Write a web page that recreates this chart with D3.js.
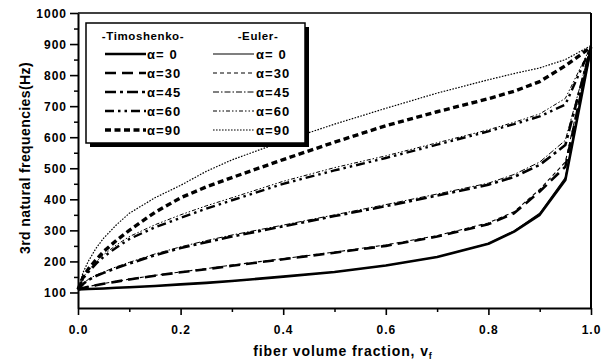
<!DOCTYPE html>
<html>
<head>
<meta charset="utf-8">
<script src="https://cdn.jsdelivr.net/npm/d3@7/dist/d3.min.js"></script>
<style>
  html, body { margin: 0; padding: 0; background: #fff; }
  svg { display: block; }
  .tick text { font-family: "Liberation Sans", Arial, sans-serif; font-weight: bold; font-size: 12px; letter-spacing: 1px; fill: #000; }
</style>
</head>
<body>
<svg id="chart" width="613" height="363"></svg>
<script>
// Fiber volume fraction sample points
const fraction = [0, 0.01, 0.02, 0.035, 0.05, 0.075, 0.1, 0.15, 0.2, 0.25, 0.3, 0.4, 0.5, 0.6, 0.7, 0.8, 0.85, 0.9, 0.95, 1.0];

// Third natural frequency (Hz), Timoshenko beam theory
const timo0  = [110, 110.5, 111, 112, 113, 115, 117, 121, 126, 131, 137, 151, 166, 187, 214, 257, 296, 350, 462, 890];
const timo30 = [110, 114, 118, 123, 128, 135, 142, 154, 165, 175, 186, 207, 228, 250, 280, 320, 355, 425, 505, 890];
const timo45 = [110, 127, 140, 153, 163, 179, 193, 220, 243, 262, 280, 313, 346, 378, 412, 447, 472, 511, 575, 890];
const timo60 = [110, 145, 165, 192, 215, 245, 272, 310, 340, 370, 397, 450, 493, 533, 576, 619, 642, 667, 705, 890];
const timo90 = [110, 150, 175, 205, 232, 268, 300, 358, 405, 440, 470, 528, 584, 637, 682, 724, 748, 779, 830, 890];

// Third natural frequency (Hz), Euler beam theory
const euler0  = [110, 110.5, 111, 112, 113, 115, 117, 121, 126, 131, 137, 151, 166, 187, 214, 258, 298, 355, 470, 892];
const euler30 = [110, 115, 119, 124, 129, 136, 143, 155, 166, 177, 188, 209, 230, 253, 283, 324, 360, 432, 520, 892];
const euler45 = [110, 129, 142, 156, 166, 183, 197, 224, 247, 267, 285, 317, 350, 383, 417, 452, 480, 520, 590, 893];
const euler60 = [110, 150, 170, 198, 222, 253, 280, 318, 350, 379, 405, 458, 502, 540, 582, 624, 648, 675, 725, 893];
const euler90 = [110, 165, 200, 242, 275, 318, 355, 405, 445, 490, 527, 587, 642, 693, 742, 785, 805, 823, 850, 895];

const angleLabels = ["α= 0", "α=30", "α=45", "α=60", "α=90"];
const xTickValues = [0, 0.2, 0.4, 0.6, 0.8, 1.0];
const yTickValues = [100, 200, 300, 400, 500, 600, 700, 800, 900, 1000];

// Line styles: heavy strokes for Timoshenko, light strokes for Euler
const timoStyles = [
  { width: 2.6, dash: null },
  { width: 2.6, dash: "11,6" },
  { width: 2.6, dash: "11,4,3,4" },
  { width: 2.4, dash: "9,4,2.5,4,2.5,4" },
  { width: 3.4, dash: "6,3.5" }
];
const eulerStyles = [
  { width: 1.1, dash: null },
  { width: 1.1, dash: "4,3" },
  { width: 1.0, dash: "6,2,1.5,2" },
  { width: 1.0, dash: "4,2,1.5,2,1.5,2" },
  { width: 1.2, dash: "1.6,1.4" }
];

const timoSeries = [timo0, timo30, timo45, timo60, timo90];
const eulerSeries = [euler0, euler30, euler45, euler60, euler90];

const svg = d3.select("#chart");
const plotLeft = 78, plotRight = 591, plotTop = 13, plotBottom = 308;

const x = d3.scaleLinear().domain([0, 1]).range([plotLeft, plotRight]);
const y = d3.scaleLinear().domain([50, 1000]).range([plotBottom, plotTop]);

const line = d3.line()
  .x((d, i) => x(fraction[i]))
  .y(d => y(d))
  .curve(d3.curveLinear);

const plot = svg.append("g").attr("class", "curves");

function drawSeries(series, styles) {
  series.forEach((vals, k) => {
    plot.append("path")
      .datum(vals)
      .attr("d", line)
      .attr("fill", "none")
      .attr("stroke", "#000")
      .attr("stroke-width", styles[k].width)
      .attr("stroke-dasharray", styles[k].dash)
      .attr("stroke-linejoin", "round");
  });
}
drawSeries(eulerSeries, eulerStyles);
drawSeries(timoSeries, timoStyles);

// Frame: top and right edges
svg.append("line").attr("x1", plotLeft).attr("x2", plotRight).attr("y1", plotTop).attr("y2", plotTop)
  .attr("stroke", "#000").attr("stroke-width", 1.5);
svg.append("line").attr("x1", plotRight).attr("x2", plotRight).attr("y1", plotTop).attr("y2", plotBottom)
  .attr("stroke", "#000").attr("stroke-width", 2);

// Minor ticks
svg.append("g").attr("transform", `translate(0,${plotBottom})`)
  .call(d3.axisBottom(x).tickValues([0.1, 0.3, 0.5, 0.7, 0.9]).tickSize(4).tickFormat(""))
  .call(g => g.select(".domain").remove())
  .call(g => g.selectAll("line").attr("stroke-width", 1.5));
svg.append("g").attr("transform", `translate(${plotLeft},0)`)
  .call(d3.axisLeft(y).tickValues(d3.range(150, 1000, 100)).tickSize(4).tickFormat(""))
  .call(g => g.select(".domain").remove())
  .call(g => g.selectAll("line").attr("stroke-width", 1.5));

// Major axes
svg.append("g").attr("transform", `translate(0,${plotBottom})`)
  .call(d3.axisBottom(x).tickValues(xTickValues).tickSize(7).tickSizeOuter(0).tickPadding(10).tickFormat(d3.format(".1f")))
  .call(g => g.select(".domain").attr("stroke-width", 2))
  .call(g => g.selectAll("line").attr("stroke-width", 1.6));
svg.append("g").attr("transform", `translate(${plotLeft},0)`)
  .call(d3.axisLeft(y).tickValues(yTickValues).tickSize(8).tickSizeOuter(0).tickPadding(3).tickFormat(d3.format("d")))
  .call(g => g.select(".domain").attr("stroke-width", 2))
  .call(g => g.selectAll("line").attr("stroke-width", 1.6))
  .call(g => g.selectAll("text").attr("dy", "0.36em"));

// Axis titles
svg.append("text")
  .attr("transform", "translate(30,158) rotate(-90)")
  .attr("text-anchor", "middle")
  .style("font-family", "'Liberation Sans', Arial, sans-serif")
  .style("font-weight", "bold")
  .style("font-size", "14px")
  .style("letter-spacing", "0.4px")
  .text("3rd natural frequencies(Hz)");

const xt = svg.append("text")
  .attr("x", 343).attr("y", 356)
  .attr("text-anchor", "middle")
  .style("font-family", "'Liberation Sans', Arial, sans-serif")
  .style("font-weight", "bold")
  .style("font-size", "14px")
  .style("letter-spacing", "0.9px");
xt.append("tspan").text("fiber volume fraction,  v");
xt.append("tspan").attr("dy", 3).style("font-size", "9px").text("f");

// Legend box with drop shadow
const lg = svg.append("g").attr("class", "legend");
const lx = 86, ly = 23, lw = 219, lh = 120;
lg.append("rect").attr("x", lx + 4).attr("y", ly + 4).attr("width", lw).attr("height", lh).attr("fill", "#000");
lg.append("rect").attr("x", lx).attr("y", ly).attr("width", lw).attr("height", lh)
  .attr("fill", "#fff").attr("stroke", "#000").attr("stroke-width", 1.5);

const legendFont = (sel, size, spacing) => sel
  .style("font-family", "'Liberation Sans', Arial, sans-serif")
  .style("font-weight", "bold")
  .style("font-size", size + "px")
  .style("letter-spacing", spacing + "px");

lg.append("text").attr("x", 143).attr("y", 40).attr("text-anchor", "middle").call(legendFont, 11.5, 0.6).text("-Timoshenko-");
lg.append("text").attr("x", 258).attr("y", 40).attr("text-anchor", "middle").call(legendFont, 11.5, 0.6).text("-Euler-");

angleLabels.forEach((lab, k) => {
  const ry = 54 + k * 19;
  const ts = timoStyles[k], es = eulerStyles[k];
  lg.append("line").attr("x1", 105).attr("x2", 146).attr("y1", ry).attr("y2", ry)
    .attr("stroke", "#000").attr("stroke-width", ts.width).attr("stroke-dasharray", ts.dash);
  lg.append("text").attr("x", 147).attr("y", ry + 5).call(legendFont, 13, 1.1).text(lab);
  lg.append("line").attr("x1", 213).attr("x2", 254).attr("y1", ry).attr("y2", ry)
    .attr("stroke", "#000").attr("stroke-width", es.width).attr("stroke-dasharray", es.dash);
  lg.append("text").attr("x", 256).attr("y", ry + 5).call(legendFont, 13, 1.1).text(lab);
});
</script>
</body>
</html>
